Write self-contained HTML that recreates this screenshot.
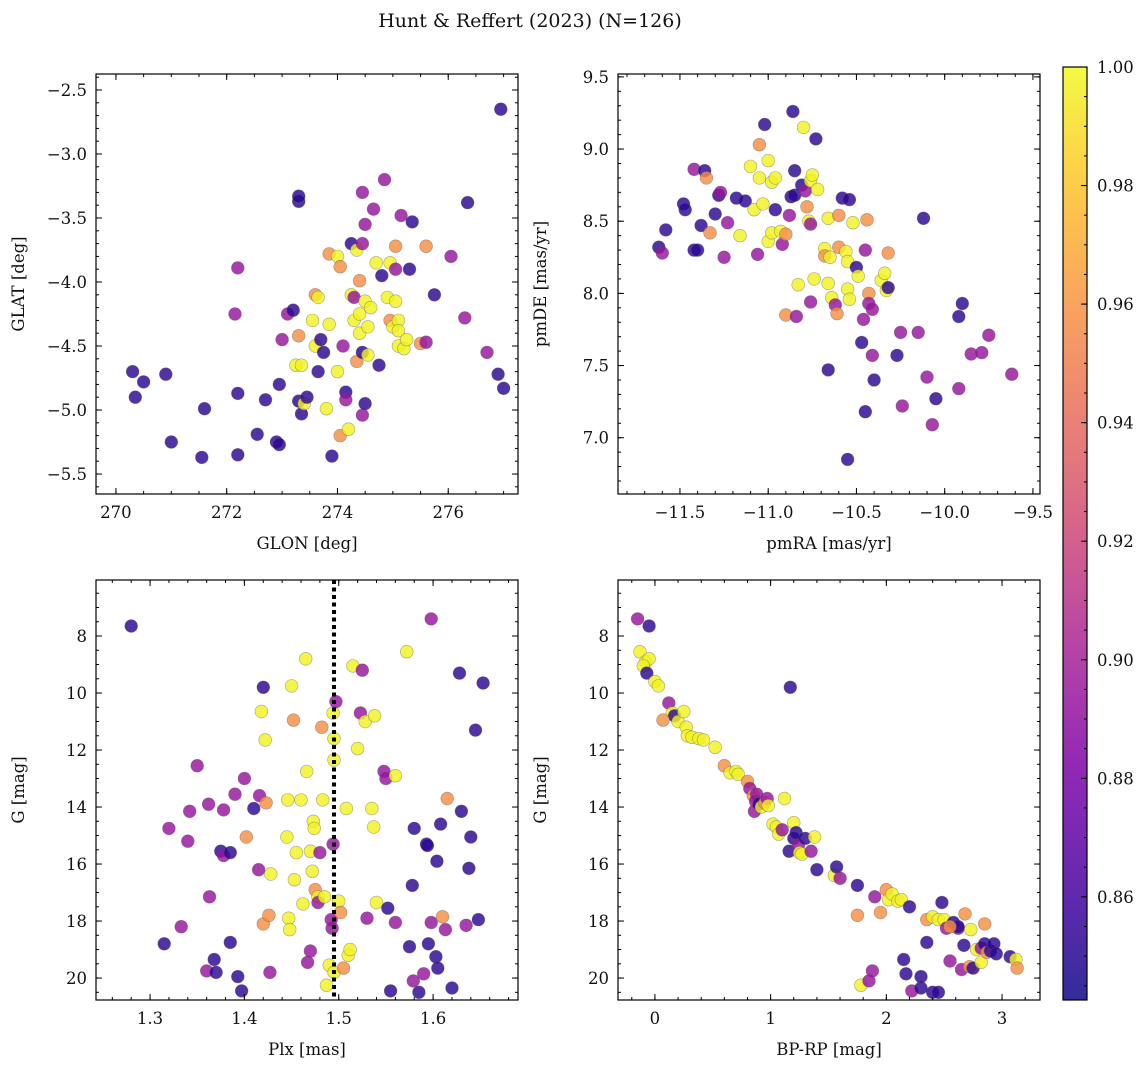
<!DOCTYPE html>
<html><head><meta charset="utf-8">
<style>
body{margin:0;background:#fff;}
svg text{font-family:"DejaVu Serif","Liberation Serif",serif;fill:#111;}
</style></head>
<body>
<svg id="fig" width="1148" height="1067" xmlns="http://www.w3.org/2000/svg">
<text x="530" y="27" font-size="19" text-anchor="middle">Hunt &amp; Reffert (2023) (N=126)</text>
</svg>
<script>
const d=0.852,p=0.893,o=0.958,y=0.997;
const glonGlat=[[276.95,-2.65,d],[270.3,-4.7,d],[270.35,-4.9,d],[270.5,-4.78,d],[270.9,-4.72,d],[271.0,-5.25,d],[271.55,-5.37,d],[271.6,-4.99,d],[272.15,-4.25,p],[272.2,-3.89,p],[272.2,-4.87,d],[272.2,-5.35,d],[272.55,-5.19,d],[272.7,-4.92,d],[272.9,-5.25,d],[272.95,-5.27,d],[272.95,-4.8,d],[273.0,-4.45,p],[273.1,-4.25,p],[273.2,-4.22,d],[273.3,-3.37,d],[273.3,-3.33,d],[273.25,-4.65,y],[273.3,-4.93,d],[273.35,-5.03,d],[273.4,-4.95,y],[273.35,-4.65,y],[273.3,-4.42,o],[273.45,-4.9,d],[273.55,-4.3,y],[273.6,-4.1,o],[273.65,-4.12,y],[273.6,-4.5,y],[273.7,-4.45,d],[273.65,-4.7,d],[273.75,-4.55,d],[273.8,-4.99,y],[273.85,-3.78,o],[273.85,-4.33,y],[273.9,-5.36,d],[274.0,-4.7,y],[274.0,-3.8,y],[274.05,-3.88,o],[274.1,-4.5,p],[274.15,-4.86,d],[274.05,-5.2,o],[274.2,-5.15,y],[274.15,-4.92,p],[274.25,-3.7,d],[274.25,-4.1,y],[274.3,-4.3,y],[274.3,-4.12,p],[274.35,-3.75,y],[274.35,-4.62,o],[274.4,-4.25,y],[274.4,-4.4,y],[274.45,-4.55,d],[274.4,-3.99,o],[274.5,-4.15,y],[274.45,-5.04,p],[274.5,-4.95,d],[274.45,-3.7,p],[274.5,-3.55,p],[274.45,-3.3,p],[274.55,-4.57,y],[274.55,-4.35,y],[274.6,-4.2,y],[274.65,-3.43,p],[274.7,-3.85,y],[274.75,-4.65,d],[274.8,-3.95,d],[274.85,-3.2,p],[274.9,-4.12,y],[274.95,-4.3,o],[274.95,-3.85,y],[275.0,-4.35,y],[275.05,-3.72,o],[275.05,-4.15,y],[275.05,-3.9,p],[275.1,-4.5,y],[275.1,-4.3,y],[275.1,-4.38,y],[275.15,-3.48,p],[275.2,-4.52,y],[275.25,-4.45,y],[275.3,-3.9,d],[275.35,-3.53,d],[275.5,-4.48,o],[275.6,-4.47,p],[275.6,-3.72,o],[275.75,-4.1,d],[276.05,-3.8,p],[276.3,-4.28,p],[276.35,-3.38,d],[276.7,-4.55,p],[276.9,-4.72,d],[277.0,-4.83,d]];
const pmPoints=[[-11.62,8.32,d],[-11.6,8.28,p],[-11.58,8.44,d],[-11.48,8.62,d],[-11.47,8.58,d],[-11.42,8.86,p],[-11.42,8.3,d],[-11.4,8.3,d],[-11.38,8.47,d],[-11.36,8.85,d],[-11.35,8.8,o],[-11.33,8.42,o],[-11.3,8.55,d],[-11.28,8.68,d],[-11.27,8.7,p],[-11.25,8.25,p],[-11.23,8.49,p],[-11.18,8.66,d],[-11.16,8.4,y],[-11.13,8.64,d],[-11.1,8.88,y],[-11.08,8.58,y],[-11.06,8.27,p],[-11.05,8.8,y],[-11.05,9.03,o],[-11.03,8.62,y],[-11.0,8.92,y],[-10.98,8.77,y],[-11.02,9.17,d],[-11.0,8.36,y],[-10.98,8.42,y],[-10.96,8.8,y],[-10.96,8.58,d],[-10.93,8.43,y],[-10.92,8.34,p],[-10.9,8.41,o],[-10.9,7.85,o],[-10.88,8.54,p],[-10.87,8.67,d],[-10.86,9.26,d],[-10.85,8.68,d],[-10.85,8.85,d],[-10.84,7.84,p],[-10.83,8.06,y],[-10.81,8.75,d],[-10.8,9.15,y],[-10.79,8.71,p],[-10.78,8.6,o],[-10.77,8.5,y],[-10.76,8.48,p],[-10.76,8.78,y],[-10.75,8.82,y],[-10.74,8.1,y],[-10.76,7.94,p],[-10.73,9.07,d],[-10.72,8.72,y],[-10.66,8.07,y],[-10.68,8.31,y],[-10.68,8.26,o],[-10.66,8.52,y],[-10.65,8.25,y],[-10.64,7.97,y],[-10.62,7.92,p],[-10.61,7.86,o],[-10.6,8.54,o],[-10.6,8.32,o],[-10.58,8.66,d],[-10.55,8.03,y],[-10.56,8.29,y],[-10.55,8.22,y],[-10.54,8.65,d],[-10.54,7.96,y],[-10.52,8.49,y],[-10.5,8.18,d],[-10.49,8.12,y],[-10.47,7.66,d],[-10.46,7.82,p],[-10.45,8.3,p],[-10.44,8.51,o],[-10.43,8.0,o],[-10.43,7.93,p],[-10.41,7.89,p],[-10.41,7.57,p],[-10.4,7.4,d],[-10.45,7.18,d],[-10.36,8.09,y],[-10.34,8.14,y],[-10.33,8.02,y],[-10.32,8.28,o],[-10.32,8.04,d],[-10.27,7.57,d],[-10.25,7.73,p],[-10.24,7.22,p],[-10.15,7.73,p],[-10.12,8.52,d],[-10.1,7.42,p],[-10.05,7.27,d],[-10.07,7.09,p],[-9.92,7.84,d],[-9.9,7.93,d],[-9.92,7.34,p],[-9.85,7.58,p],[-9.79,7.59,p],[-9.75,7.71,p],[-9.62,7.44,p],[-10.55,6.85,d],[-10.66,7.47,d]];
const plxG=[[1.28,7.65,d],[1.315,18.8,d],[1.32,14.75,p],[1.333,18.2,p],[1.34,15.2,p],[1.342,14.15,p],[1.35,12.55,p],[1.36,19.75,p],[1.362,13.9,p],[1.363,17.15,p],[1.368,19.35,d],[1.37,19.8,d],[1.375,15.55,d],[1.378,15.7,p],[1.378,14.1,p],[1.385,18.75,d],[1.385,15.6,d],[1.39,13.55,p],[1.393,19.95,d],[1.397,20.45,d],[1.4,13.0,p],[1.41,14.05,d],[1.415,16.2,p],[1.416,13.6,p],[1.418,10.65,y],[1.42,18.1,o],[1.422,11.65,y],[1.423,13.85,o],[1.426,17.8,o],[1.427,19.8,p],[1.428,16.35,y],[1.402,15.05,o],[1.42,9.8,d],[1.445,15.05,y],[1.446,13.75,y],[1.447,17.9,y],[1.448,18.3,y],[1.45,9.75,y],[1.452,10.95,o],[1.453,16.55,y],[1.455,15.6,y],[1.46,13.75,y],[1.462,17.4,y],[1.465,8.8,y],[1.466,12.75,y],[1.467,19.45,p],[1.47,15.55,y],[1.47,19.05,p],[1.472,16.25,y],[1.473,14.5,y],[1.474,14.75,y],[1.475,16.9,o],[1.478,17.15,y],[1.478,17.35,p],[1.48,15.6,p],[1.482,11.2,o],[1.483,13.75,y],[1.485,17.15,y],[1.487,20.25,y],[1.49,19.55,y],[1.492,17.95,p],[1.493,18.25,p],[1.494,10.7,y],[1.494,15.3,p],[1.495,11.6,y],[1.495,12.35,y],[1.497,10.3,p],[1.495,19.8,y],[1.5,17.3,y],[1.502,17.7,o],[1.505,19.65,o],[1.508,14.05,y],[1.51,19.2,y],[1.512,19.0,y],[1.515,9.05,y],[1.52,11.95,y],[1.523,10.7,p],[1.525,9.2,p],[1.528,11.0,y],[1.53,17.9,p],[1.535,14.05,y],[1.537,14.7,y],[1.538,10.8,y],[1.54,17.35,y],[1.548,12.75,p],[1.55,13.0,p],[1.555,20.45,d],[1.56,12.9,y],[1.56,18.05,p],[1.572,8.55,y],[1.575,18.9,d],[1.578,16.75,d],[1.579,20.1,p],[1.58,14.75,d],[1.585,20.5,d],[1.593,15.3,d],[1.595,18.8,d],[1.598,7.4,p],[1.598,18.05,p],[1.603,19.25,d],[1.604,15.9,d],[1.605,19.65,d],[1.608,14.6,d],[1.61,17.85,o],[1.613,18.3,p],[1.615,13.7,o],[1.62,20.35,d],[1.628,9.3,d],[1.63,14.15,d],[1.635,18.15,p],[1.638,16.15,d],[1.64,15.05,d],[1.645,11.3,d],[1.648,17.95,d],[1.653,9.65,d],[1.594,15.35,d],[1.552,17.55,d],[1.59,19.85,p]];
const cmdG=[[-0.15,7.4,p],[-0.05,7.65,d],[-0.13,8.55,y],[-0.08,8.9,y],[-0.05,8.8,y],[-0.1,9.05,y],[-0.07,9.3,d],[0.0,9.6,y],[0.03,9.75,y],[0.12,10.35,p],[0.15,10.7,y],[0.17,10.8,d],[0.2,11.0,y],[0.07,10.95,o],[0.25,10.65,y],[0.27,11.2,y],[0.28,11.5,y],[0.32,11.55,y],[0.38,11.6,y],[0.42,11.65,y],[0.52,11.9,y],[0.6,12.55,o],[0.65,12.8,y],[0.7,12.75,y],[0.72,12.85,y],[0.8,13.1,o],[0.82,13.35,p],[0.85,13.6,o],[0.88,13.55,p],[0.87,13.8,p],[0.86,14.15,p],[0.9,13.9,d],[0.92,14.0,y],[0.95,13.85,o],[0.97,13.7,p],[0.98,13.95,y],[1.02,14.6,y],[1.05,14.7,y],[1.07,14.95,y],[1.1,14.8,p],[1.12,13.7,y],[1.16,15.55,d],[1.17,9.8,d],[1.2,14.55,y],[1.2,15.1,d],[1.22,14.9,d],[1.24,15.35,p],[1.25,15.6,y],[1.27,15.65,y],[1.3,15.1,d],[1.35,15.55,p],[1.38,15.05,y],[1.4,16.2,d],[1.55,16.4,y],[1.57,16.1,d],[1.6,16.5,p],[1.75,16.75,d],[1.75,17.8,o],[1.78,20.25,y],[1.85,20.1,p],[1.88,19.75,p],[1.9,17.15,p],[1.95,17.7,o],[2.0,16.9,o],[2.02,17.25,y],[2.05,17.05,y],[2.1,17.3,y],[2.13,17.25,y],[2.15,19.35,d],[2.17,19.85,d],[2.2,17.5,d],[2.22,20.45,p],[2.3,20.35,d],[2.3,19.95,d],[2.4,20.5,d],[2.45,20.5,d],[2.35,18.75,d],[2.35,17.95,o],[2.4,17.85,y],[2.45,17.95,y],[2.48,17.35,d],[2.5,17.95,y],[2.52,18.25,p],[2.55,19.4,p],[2.58,18.05,d],[2.62,18.25,p],[2.62,18.2,d],[2.65,19.7,p],[2.68,17.75,o],[2.72,19.6,o],[2.73,18.3,y],[2.75,19.65,d],[2.78,19.0,y],[2.82,18.95,p],[2.82,19.45,y],[2.85,18.1,o],[2.85,18.8,d],[2.87,19.1,o],[2.9,19.05,d],[2.93,18.8,d],[2.95,19.15,d],[3.07,19.25,d],[3.12,19.35,y],[3.13,19.65,o],[2.55,18.2,o],[2.67,18.85,d]];
const cbTicks=[0.86,0.88,0.90,0.92,0.94,0.96,0.98,1.00];
const plxLine=1.495;

const NS="http://www.w3.org/2000/svg";
const svg=document.getElementById('fig');
function mk(tag,at,parent){const e=document.createElementNS(NS,tag);for(const k in at)e.setAttribute(k,at[k]);(parent||svg).appendChild(e);return e;}
const stops=[[0,[13,8,135]],[0.125,[75,3,161]],[0.25,[126,3,168]],[0.375,[168,34,150]],[0.5,[204,71,120]],[0.625,[230,108,92]],[0.75,[248,149,64]],[0.875,[253,195,40]],[1,[240,249,33]]];
function plasma(t){t=Math.max(0,Math.min(1,t));for(let i=1;i<stops.length;i++){if(t<=stops[i][0]){const a=stops[i-1],b=stops[i],f=(t-a[0])/(b[0]-a[0]);return 'rgb('+a[1].map((v,j)=>Math.round(v+(b[1][j]-v)*f)).join(',')+')';}}}
const cmin=0.8426,cmax=1.0;
function cnorm(c){return (c-cmin)/(cmax-cmin);}
const TF=16.5, LF=16.5;

function panel(cfg){
  const {x0,y0,w,h,xmin,xmax,ymin,ymax,yinv,xmaj,xmin_,ymaj,ymin_,xlab,ylab,pts,name,xfmt,yfmt}=cfg;
  const g=mk('g',{});
  
  
  const sx=v=>x0+(v-xmin)/(xmax-xmin)*w;
  const sy=v=>yinv? y0+(v-ymin)/(ymax-ymin)*h : y0+h-(v-ymin)/(ymax-ymin)*h;
  const clip='c'+name;
  const cp=mk('clipPath',{id:clip},g);mk('rect',{x:x0,y:y0,width:w,height:h},cp);
  const pg=mk('g',{'clip-path':'url(#'+clip+')'},g);
  pts.forEach(q=>{const c=mk('circle',{cx:sx(q[0]).toFixed(1),cy:sy(q[1]).toFixed(1),r:6.4,fill:plasma(cnorm(q[2])),'fill-opacity':0.82,stroke:'#555','stroke-opacity':0.5,'stroke-width':0.6},pg);
    
    });
  if(cfg.vline!==undefined){const l=mk('line',{x1:sx(cfg.vline),x2:sx(cfg.vline),y1:y0,y2:y0+h,stroke:'#000','stroke-width':4,'stroke-dasharray':'4,3.5'},g);
    
    }
  mk('rect',{x:x0,y:y0,width:w,height:h,fill:'none',stroke:'#000','stroke-width':1.2},g);
  const ticks=(lo,hi,step)=>{const a=[];const s=Math.ceil(lo/step-1e-6);for(let k=s;k*step<=hi+1e-9;k++)a.push(+(k*step).toFixed(6));return a;};
  ticks(xmin,xmax,xmin_).forEach(v=>{const X=sx(v);mk('line',{x1:X,x2:X,y1:y0+h,y2:y0+h-3,stroke:'#000'},g);mk('line',{x1:X,x2:X,y1:y0,y2:y0+3,stroke:'#000'},g);});
  ticks(xmin,xmax,xmaj).forEach(v=>{const X=sx(v);mk('line',{x1:X,x2:X,y1:y0+h,y2:y0+h-6,stroke:'#000'},g);mk('line',{x1:X,x2:X,y1:y0,y2:y0+6,stroke:'#000'},g);
    const t=mk('text',{x:X,y:y0+h+24,'font-size':TF,'text-anchor':'middle'},g);t.textContent=xfmt(v).replace('-','\u2212');});
  ticks(ymin,ymax,ymin_).forEach(v=>{const Y=sy(v);mk('line',{x1:x0,x2:x0+3,y1:Y,y2:Y,stroke:'#000'},g);mk('line',{x1:x0+w,x2:x0+w-3,y1:Y,y2:Y,stroke:'#000'},g);});
  ticks(ymin,ymax,ymaj).forEach(v=>{const Y=sy(v);mk('line',{x1:x0,x2:x0+6,y1:Y,y2:Y,stroke:'#000'},g);mk('line',{x1:x0+w,x2:x0+w-6,y1:Y,y2:Y,stroke:'#000'},g);
    const t=mk('text',{x:x0-9,y:Y+6,'font-size':TF,'text-anchor':'end'},g);t.textContent=yfmt(v).replace('-','\u2212');});
  const xl=mk('text',{x:x0+w/2,y:y0+h+55,'font-size':LF,'text-anchor':'middle'},g);xl.textContent=xlab;
  
  const yl=mk('text',{x:0,y:0,'font-size':LF,'text-anchor':'middle',transform:'translate('+(x0-72)+','+(y0+h/2)+') rotate(-90)'},g);yl.textContent=ylab;
  
}
const f1=v=>v.toFixed(1), f0=v=>v.toFixed(0);
panel({name:'glon-glat-panel',x0:96,y0:74,w:422,h:420,xmin:269.64,xmax:277.26,ymin:-5.656,ymax:-2.375,xmaj:2,xmin_:0.5,ymaj:0.5,ymin_:0.1,xlab:'GLON [deg]',ylab:'GLAT [deg]',pts:glonGlat,xfmt:f0,yfmt:f1});
panel({name:'proper-motion-panel',x0:618,y0:74,w:422,h:420,xmin:-11.851,xmax:-9.46,ymin:6.61,ymax:9.52,xmaj:0.5,xmin_:0.1,ymaj:0.5,ymin_:0.1,xlab:'pmRA [mas/yr]',ylab:'pmDE [mas/yr]',pts:pmPoints,xfmt:f1,yfmt:f1});
panel({name:'parallax-mag-panel',x0:96,y0:580,w:422,h:420,xmin:1.2427,xmax:1.690,ymin:6.035,ymax:20.77,yinv:true,xmaj:0.1,xmin_:0.02,ymaj:2,ymin_:0.5,xlab:'Plx [mas]',ylab:'G [mag]',pts:plxG,xfmt:f1,yfmt:f0,vline:plxLine});
panel({name:'cmd-panel',x0:618,y0:580,w:422,h:420,xmin:-0.319,xmax:3.328,ymin:6.035,ymax:20.77,yinv:true,xmaj:1,xmin_:0.2,ymaj:2,ymin_:0.5,xlab:'BP-RP [mag]',ylab:'G [mag]',pts:cmdG,xfmt:f0,yfmt:f0});
const cb=mk('g',{});


const defs=mk('defs',{},cb);const lg=mk('linearGradient',{id:'cbg',x1:0,y1:1,x2:0,y2:0},defs);
for(let i=0;i<=20;i++){const t=i/20;mk('stop',{offset:t,'stop-color':plasma(t),'stop-opacity':0.85},lg);}
const cbx=1063,cby=67,cbw=24,cbh=933;
mk('rect',{x:cbx,y:cby,width:cbw,height:cbh,fill:'url(#cbg)',stroke:'#000','stroke-width':1.2},cb);
const cy=v=>cby+cbh-(v-cmin)/(cmax-cmin)*cbh;
for(let k=0;;k++){const v=0.845+k*0.005;if(v>1.0001)break;const Y=cy(v);mk('line',{x1:cbx+cbw,x2:cbx+cbw-3,y1:Y,y2:Y,stroke:'#000'},cb);}
cbTicks.forEach(v=>{const Y=cy(v);mk('line',{x1:cbx+cbw,x2:cbx+cbw-6,y1:Y,y2:Y,stroke:'#000'},cb);const t=mk('text',{x:cbx+cbw+10,y:Y+6,'font-size':TF},cb);t.textContent=v.toFixed(2);});
</script>
</body></html>
